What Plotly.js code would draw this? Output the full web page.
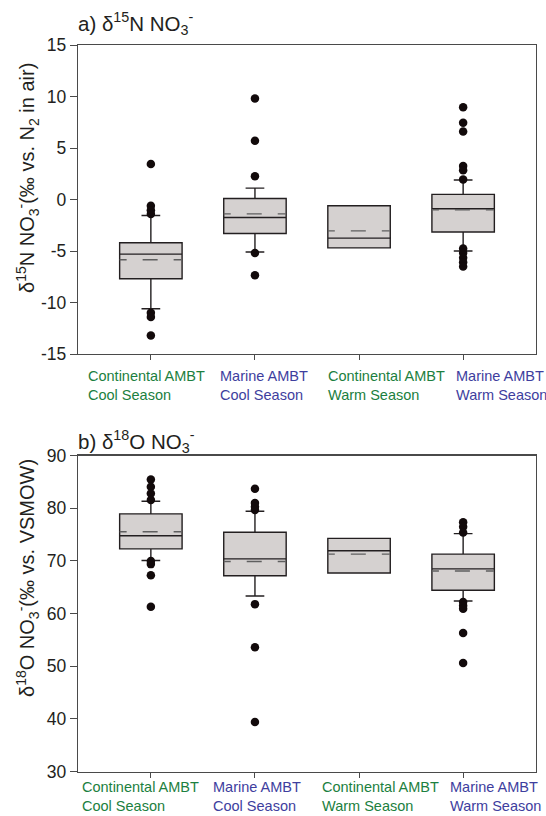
<!DOCTYPE html>
<html>
<head>
<meta charset="utf-8">
<script src="https://cdn.plot.ly/plotly-3.0.1.min.js"></script>
<style>html,body{margin:0;padding:0;background:#fff;}#chart{width:546px;height:816px;}</style>
</head>
<body>
<div id="chart"></div>
<script>
// ---- Data ----
var categories = [0, 1, 2, 3];
var categoryLine1 = ["Continental AMBT", "Marine AMBT", "Continental AMBT", "Marine AMBT"];
var categoryLine2 = ["Cool Season", "Cool Season", "Warm Season", "Warm Season"];

// Panel a: d15N NO3-
var n15_q1 = [-7.7, -3.3, -4.7, -3.15];
var n15_median = [-5.3, -1.75, -3.75, -0.9];
var n15_q3 = [-4.2, 0.1, -0.6, 0.5];
var n15_lowerfence = [-10.6, -5.1, -4.7, -5.0];
var n15_upperfence = [-1.55, 1.1, -0.6, 1.9];
var n15_mean = [-5.85, -1.4, -3.05, -1.0];
var n15_outliers = [
  [3.45, -0.6, -1.05, -1.4, -11.0, -11.4, -13.2],
  [9.8, 5.7, 2.25, -5.2, -7.35],
  [],
  [8.95, 7.45, 6.6, 3.25, 2.85, 1.95, -4.75, -5.2, -5.65, -6.1, -6.5]
];
var n15_ticks = [-15, -10, -5, 0, 5, 10, 15];
var n15_ticklabels = ["-15", "-10", "-5", "0", "5", "10", "15"];

// Panel b: d18O NO3-
var o18_q1 = [72.3, 67.2, 67.7, 64.45];
var o18_median = [74.8, 70.4, 71.95, 68.5];
var o18_q3 = [78.95, 75.45, 74.3, 71.3];
var o18_lowerfence = [70.1, 63.35, 67.7, 62.4];
var o18_upperfence = [81.35, 79.45, 74.3, 75.2];
var o18_mean = [75.55, 69.9, 71.3, 68.1];
var o18_outliers = [
  [85.5, 84.1, 82.8, 81.6, 70.0, 69.4, 67.3, 61.3],
  [83.7, 81.0, 80.3, 79.7, 61.8, 53.6, 39.4],
  [],
  [77.35, 76.5, 75.4, 62.2, 61.5, 60.9, 56.3, 50.6]
];
var o18_ticks = [30, 40, 50, 60, 70, 80, 90];
var o18_ticklabels = ["30", "40", "50", "60", "70", "80", "90"];

// ---- Styling ----
var FONT = "Liberation Sans, Arial, Helvetica, sans-serif";
var BOX_FILL = "#d5d1d0";
var BOX_LINE = "#231f20";
var MEAN_COLOR = "#5f5f5f";
var AXIS_COLOR = "#4a4a4a";
var GREEN = "#1c8040";
var BLUE = "#3e3e9e";
var labelColors = [GREEN, BLUE, GREEN, BLUE];
var HALF = 0.3;
var W = 546, H = 816;

function px(x) { return x / W; }
function py(y) { return 1 - y / H; }

var traces = [];

function addPanel(xa, ya, q1, med, q3, lf, uf, mean, outl) {
  traces.push({
    type: "box", xaxis: xa, yaxis: ya,
    x: categories, q1: q1, median: med, q3: q3,
    lowerfence: lf, upperfence: uf,
    width: 2 * HALF, whiskerwidth: 0.3,
    boxpoints: false,
    fillcolor: BOX_FILL,
    line: {color: BOX_LINE, width: 1.4},
    hoverinfo: "skip", showlegend: false
  });
  categories.forEach(function (c, i) {
    traces.push({
      type: "scatter", mode: "lines", xaxis: xa, yaxis: ya,
      x: [c - HALF, c + HALF], y: [mean[i], mean[i]],
      line: {color: MEAN_COLOR, width: 1.4, dash: "7px,16px,15px,16px,8px"},
      hoverinfo: "skip", showlegend: false
    });
  });
  var ox = [], oy = [];
  categories.forEach(function (c, i) {
    outl[i].forEach(function (v) { ox.push(c); oy.push(v); });
  });
  traces.push({
    type: "scatter", mode: "markers", xaxis: xa, yaxis: ya,
    x: ox, y: oy,
    marker: {color: "#120a0b", size: 8.5},
    hoverinfo: "skip", showlegend: false
  });
}

addPanel("x", "y", n15_q1, n15_median, n15_q3, n15_lowerfence, n15_upperfence, n15_mean, n15_outliers);
addPanel("x2", "y2", o18_q1, o18_median, o18_q3, o18_lowerfence, o18_upperfence, o18_mean, o18_outliers);

var xDomain = [78 / W, 536 / W];
function xaxisDef(anchor) {
  return {
    domain: xDomain, anchor: anchor, range: [-0.7, 3.7],
    tickvals: categories, ticktext: categories.map(function () { return ""; }),
    ticks: "outside", ticklen: 5, tickwidth: 1, tickcolor: AXIS_COLOR,
    showline: true, linecolor: AXIS_COLOR, linewidth: 1.3, mirror: true,
    showgrid: false, zeroline: false, fixedrange: true
  };
}
function yaxisDef(anchor, dom, range, tv, tt) {
  return {
    domain: dom, anchor: anchor, range: range,
    tickvals: tv, ticktext: tt,
    ticks: "outside", ticklen: 7, tickwidth: 1, tickcolor: AXIS_COLOR,
    tickfont: {family: FONT, size: 17.5, color: "#231f20"},
    showline: true, linecolor: AXIS_COLOR, linewidth: 1.3, mirror: true,
    showgrid: false, zeroline: false, fixedrange: true
  };
}

var annotations = [];
function ann(text, x, y, opts) {
  var a = {
    text: text, xref: "paper", yref: "paper", x: x, y: y,
    showarrow: false, xanchor: "left", yanchor: "middle",
    font: {family: FONT, size: 20.5, color: "#231f20"}
  };
  for (var k in opts) a[k] = opts[k];
  annotations.push(a);
}

ann("a) δ<sup>15</sup>N NO<sub>3</sub><sup>-</sup>", px(76), py(23), {});
ann("b) δ<sup>18</sup>O NO<sub>3</sub><sup>-</sup>", px(76), py(442), {});
ann("δ<sup>15</sup>N NO<sub>3</sub><sup>-</sup>(‰ vs. N<sub>2</sub> in air)", px(27), py(178),
    {xanchor: "center", textangle: -90, font: {family: FONT, size: 20, color: "#231f20"}});
ann("δ<sup>18</sup>O NO<sub>3</sub><sup>-</sup>(‰ vs. VSMOW)", px(27), py(578),
    {xanchor: "center", textangle: -90, font: {family: FONT, size: 20, color: "#231f20"}});

var topLabelX = [86, 218, 326, 454];
var botLabelX = [80, 211, 320, 448];
categories.forEach(function (c, i) {
  var txt = categoryLine1[i] + "<br>" + categoryLine2[i];
  var f = {family: FONT, size: 14.5, color: labelColors[i]};
  ann(txt, px(topLabelX[i]), py(385.5), {align: "left", font: f});
  ann(txt, px(botLabelX[i]), py(796), {align: "left", font: f});
});

var layout = {
  width: W, height: H,
  margin: {l: 0, r: 0, t: 0, b: 0},
  paper_bgcolor: "#ffffff", plot_bgcolor: "#ffffff",
  showlegend: false,
  xaxis: xaxisDef("y"),
  yaxis: yaxisDef("x", [1 - 354 / H, 1 - 45 / H], [-15, 15], n15_ticks, n15_ticklabels),
  xaxis2: xaxisDef("y2"),
  yaxis2: yaxisDef("x2", [1 - 771.5 / H, 1 - 455.7 / H], [30, 90], o18_ticks, o18_ticklabels),
  annotations: annotations,
  font: {family: FONT}
};

Plotly.newPlot("chart", traces, layout, {staticPlot: true, displayModeBar: false});
</script>
</body>
</html>
